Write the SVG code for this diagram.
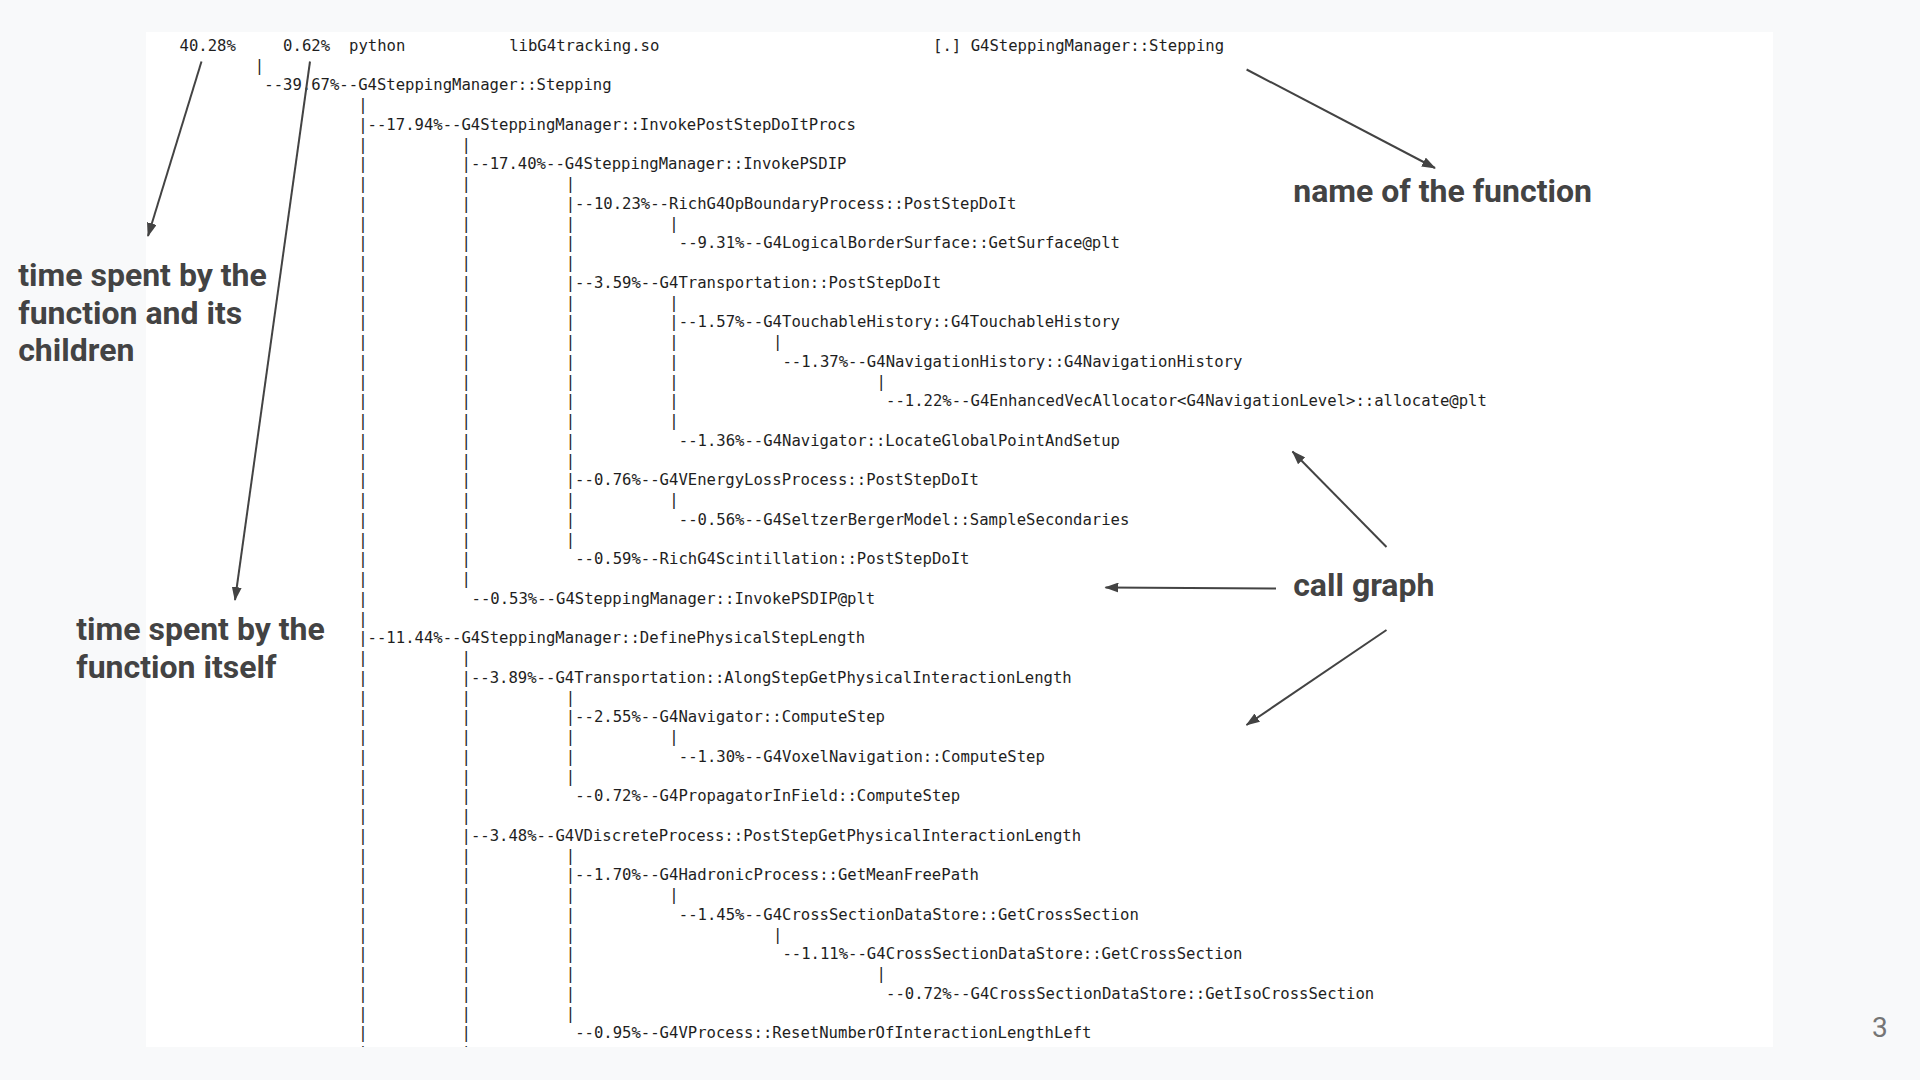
<svg xmlns="http://www.w3.org/2000/svg" width="1920" height="1080" viewBox="0 0 1920 1080">
<style>
.m{font-family:"DejaVu Sans Mono","Liberation Mono",monospace;font-size:15.6px;fill:#1e1e1e}
.a{font-family:Roboto,"Liberation Sans",sans-serif;font-weight:700;font-size:32px;fill:#434343}
.pg{font-family:Roboto,"Liberation Sans",sans-serif;font-size:28px;fill:#757575}
.c{stroke:#434343;stroke-width:2;fill:none;marker-end:url(#ah)}
</style>
<defs>
<marker id="ah" viewBox="0 0 14 10" refX="13" refY="5" markerWidth="14" markerHeight="10" markerUnits="userSpaceOnUse" orient="auto">
<path d="M0,0 L14,5 L0,10 Z" fill="#434343"/>
</marker>
<clipPath id="pc"><rect x="146" y="32" width="1627" height="1015"/></clipPath>
</defs>
<rect id="background" x="0" y="0" width="1920" height="1080" fill="#f8f9fa"/>
<rect id="panel" x="146" y="32" width="1627" height="1015" fill="#ffffff"/>
<g id="perf-output" class="m" clip-path="url(#pc)">
<text y="51"><tspan x="179.5">40.28%</tspan><tspan x="283.12">0.62%</tspan><tspan x="349.06">python</tspan><tspan x="509.2">libG4tracking.so</tspan><tspan x="933.1">[.] G4SteppingManager::Stepping</tspan></text>
<text x="254.86" y="70.75">|</text>
<text x="264.28" y="90.49">--39.67%--G4SteppingManager::Stepping</text>
<text x="358.21" y="110.24">|</text>
<text x="358.21" y="129.98">|--17.94%--G4SteppingManager::InvokePostStepDoItProcs</text>
<text x="358.21 461.5" y="149.73">||</text>
<text x="358.21 461.5" y="169.47">||--17.40%--G4SteppingManager::InvokePSDIP</text>
<text x="358.21 461.5 565.72" y="189.22">|||</text>
<text x="358.21 461.5 565.72" y="208.96">|||--10.23%--RichG4OpBoundaryProcess::PostStepDoIt</text>
<text x="358.21 461.5 565.72 669.34" y="228.71">||||</text>
<text x="358.21 461.5 565.72 678.76" y="248.45">|||--9.31%--G4LogicalBorderSurface::GetSurface@plt</text>
<text x="358.21 461.5 565.72" y="268.2">|||</text>
<text x="358.21 461.5 565.72" y="287.94">|||--3.59%--G4Transportation::PostStepDoIt</text>
<text x="358.21 461.5 565.72 669.34" y="307.69">||||</text>
<text x="358.21 461.5 565.72 669.34" y="327.43">||||--1.57%--G4TouchableHistory::G4TouchableHistory</text>
<text x="358.21 461.5 565.72 669.34 772.96" y="347.18">|||||</text>
<text x="358.21 461.5 565.72 669.34 782.38" y="366.92">||||--1.37%--G4NavigationHistory::G4NavigationHistory</text>
<text x="358.21 461.5 565.72 669.34 876.58" y="386.67">|||||</text>
<text x="358.21 461.5 565.72 669.34 886" y="406.41">||||--1.22%--G4EnhancedVecAllocator&lt;G4NavigationLevel&gt;::allocate@plt</text>
<text x="358.21 461.5 565.72 669.34" y="426.16">||||</text>
<text x="358.21 461.5 565.72 678.76" y="445.9">|||--1.36%--G4Navigator::LocateGlobalPointAndSetup</text>
<text x="358.21 461.5 565.72" y="465.65">|||</text>
<text x="358.21 461.5 565.72" y="485.39">|||--0.76%--G4VEnergyLossProcess::PostStepDoIt</text>
<text x="358.21 461.5 565.72 669.34" y="505.14">||||</text>
<text x="358.21 461.5 565.72 678.76" y="524.88">|||--0.56%--G4SeltzerBergerModel::SampleSecondaries</text>
<text x="358.21 461.5 565.72" y="544.63">|||</text>
<text x="358.21 461.5 575.14" y="564.37">||--0.59%--RichG4Scintillation::PostStepDoIt</text>
<text x="358.21 461.5" y="584.12">||</text>
<text x="358.21 471.52" y="603.86">|--0.53%--G4SteppingManager::InvokePSDIP@plt</text>
<text x="358.21" y="623.61">|</text>
<text x="358.21" y="643.35">|--11.44%--G4SteppingManager::DefinePhysicalStepLength</text>
<text x="358.21 461.5" y="663.1">||</text>
<text x="358.21 461.5" y="682.84">||--3.89%--G4Transportation::AlongStepGetPhysicalInteractionLength</text>
<text x="358.21 461.5 565.72" y="702.59">|||</text>
<text x="358.21 461.5 565.72" y="722.33">|||--2.55%--G4Navigator::ComputeStep</text>
<text x="358.21 461.5 565.72 669.34" y="742.08">||||</text>
<text x="358.21 461.5 565.72 678.76" y="761.82">|||--1.30%--G4VoxelNavigation::ComputeStep</text>
<text x="358.21 461.5 565.72" y="781.57">|||</text>
<text x="358.21 461.5 575.14" y="801.31">||--0.72%--G4PropagatorInField::ComputeStep</text>
<text x="358.21 461.5" y="821.06">||</text>
<text x="358.21 461.5" y="840.8">||--3.48%--G4VDiscreteProcess::PostStepGetPhysicalInteractionLength</text>
<text x="358.21 461.5 565.72" y="860.55">|||</text>
<text x="358.21 461.5 565.72" y="880.29">|||--1.70%--G4HadronicProcess::GetMeanFreePath</text>
<text x="358.21 461.5 565.72 669.34" y="900.04">||||</text>
<text x="358.21 461.5 565.72 678.76" y="919.78">|||--1.45%--G4CrossSectionDataStore::GetCrossSection</text>
<text x="358.21 461.5 565.72 772.96" y="939.53">||||</text>
<text x="358.21 461.5 565.72 782.38" y="959.27">|||--1.11%--G4CrossSectionDataStore::GetCrossSection</text>
<text x="358.21 461.5 565.72 876.58" y="979.02">||||</text>
<text x="358.21 461.5 565.72 886" y="998.76">|||--0.72%--G4CrossSectionDataStore::GetIsoCrossSection</text>
<text x="358.21 461.5 565.72" y="1018.51">|||</text>
<text x="358.21 461.5 575.14" y="1038.25">||--0.95%--G4VProcess::ResetNumberOfInteractionLengthLeft</text>
<text x="358.21 461.5" y="1058">||</text>
</g>
<g id="label-total-time">
<text class="a" x="18.2" y="286">time spent by the</text>
<text class="a" x="18.2" y="323.5">function and its</text>
<text class="a" x="18.2" y="361">children</text>
</g>
<g id="label-self-time">
<text class="a" x="76.2" y="640">time spent by the</text>
<text class="a" x="76.2" y="677.5">function itself</text>
</g>
<g id="label-function-name">
<text class="a" x="1293.2" y="202">name of the function</text>
</g>
<g id="label-call-graph">
<text class="a" x="1293.2" y="596">call graph</text>
</g>
<g id="connectors">
<line class="c" x1="201.5" y1="61.5" x2="148" y2="236"/>
<line class="c" x1="310" y1="61.5" x2="235" y2="600"/>
<line class="c" x1="1246.6" y1="69.5" x2="1435" y2="168"/>
<line class="c" x1="1386.5" y1="547" x2="1292.5" y2="451.5"/>
<line class="c" x1="1276" y1="588.5" x2="1105.5" y2="587.5"/>
<line class="c" x1="1386.5" y1="630" x2="1246.5" y2="725"/>
</g>
<text id="page-number" class="pg" x="1872" y="1036.5">3</text>
</svg>
